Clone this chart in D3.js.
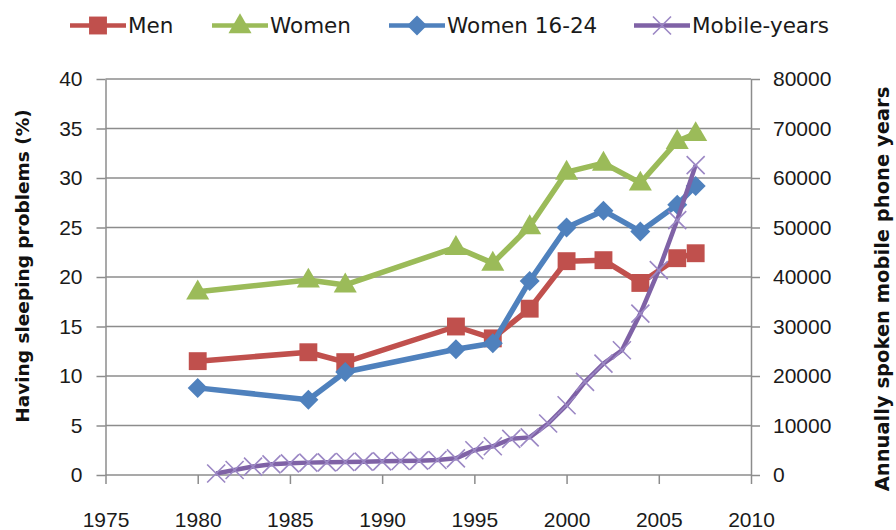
<!DOCTYPE html>
<html>
<head>
<meta charset="utf-8">
<script src="https://cdn.jsdelivr.net/npm/d3@7"></script>
<style>
  body { margin: 0; background: #fff; }
  svg { display: block; font-family: "DejaVu Sans", Verdana, sans-serif; }
  .axis text { font-size: 21px; fill: #1a1a1a; }
  .axis path, .axis line { stroke: #8c8c8c; stroke-width: 1.5; }
  .title { font-size: 18.5px; font-weight: bold; fill: #111; }
  .legend text { font-size: 21.5px; fill: #1a1a1a; }
</style>
</head>
<body>
<svg id="chart" width="896" height="530"></svg>
<script>
/*************************************************/
// Data

var surveyYears = [1980, 1986, 1988, 1994, 1996, 1998, 2000, 2002, 2004, 2006, 2007];
var men         = [11.5, 12.4, 11.4, 15.0, 13.8, 16.8, 21.6, 21.7, 19.4, 21.9, 22.4];
var women       = [18.5, 19.7, 19.2, 23.0, 21.4, 25.1, 30.6, 31.5, 29.5, 33.7, 34.5];
var women1624   = [8.8, 7.6, 10.4, 12.7, 13.3, 19.6, 25.0, 26.7, 24.6, 27.3, 29.2];

var mobileYears = [1981, 1982, 1983, 1984, 1985, 1986, 1987, 1988, 1989, 1990, 1991, 1992, 1993, 1994,
                   1995, 1996, 1997, 1998, 1999, 2000, 2001, 2002, 2003, 2004, 2005, 2006, 2007];
var mobile      = [300, 1000, 1700, 2150, 2350, 2500, 2560, 2630, 2700, 2760, 2830, 2900, 3030, 3370,
                   5000, 5800, 7300, 7600, 10400, 14100, 18800, 22500, 25200, 32600, 41400, 51500, 62600];

var xTicks = [1975, 1980, 1985, 1990, 1995, 2000, 2005, 2010];
var leftTicks = [0, 5, 10, 15, 20, 25, 30, 35, 40];
var rightTicks = [0, 10000, 20000, 30000, 40000, 50000, 60000, 70000, 80000];

var seriesNames = ['Men', 'Women', 'Women 16-24', 'Mobile-years'];

/*************************************************/

var svg = d3.select('#chart');
var plotL = 105.5, plotR = 751, plotT = 79, plotB = 475;

var xScale = d3.scaleLinear().domain([1975, 2010]).range([plotL, plotR]);
var yLeft = d3.scaleLinear().domain([0, 40]).range([plotB, plotT]);
var yRight = d3.scaleLinear().domain([0, 80000]).range([plotB, plotT]);

// gridlines
svg.append('g').selectAll('line').data(leftTicks).enter().append('line')
   .attr('x1', plotL).attr('x2', plotR)
   .attr('y1', d => yLeft(d)).attr('y2', d => yLeft(d))
   .style('stroke', '#8c8c8c').style('stroke-width', 1.5);

// axes
svg.append('g').attr('class', 'axis').attr('transform', 'translate(' + plotL + ',0)')
   .call(d3.axisLeft(yLeft).tickValues(leftTicks).tickSize(9).tickSizeOuter(0).tickPadding(14));
svg.append('g').attr('class', 'axis').attr('transform', 'translate(' + plotR + ',0)')
   .call(d3.axisRight(yRight).tickValues(rightTicks).tickFormat(d3.format('d')).tickSize(9).tickSizeOuter(0).tickPadding(13));
var xAxis = svg.append('g').attr('class', 'axis').attr('transform', 'translate(0,' + plotB + ')')
   .call(d3.axisBottom(xScale).tickValues(xTicks).tickFormat(d3.format('d')).tickSize(9).tickSizeOuter(0).tickPadding(28));
xAxis.select('.domain').remove();
svg.selectAll('.axis text').attr('fill', '#1a1a1a');

// axis titles
svg.append('text').attr('class', 'title')
   .attr('transform', 'translate(29,266) rotate(-90)')
   .attr('text-anchor', 'middle').text('Having sleeping problems (%)');
svg.append('text').attr('class', 'title').style('font-size', '19.5px')
   .attr('transform', 'translate(889,289) rotate(-90)')
   .attr('text-anchor', 'middle').text('Annually spoken mobile phone years');

/*************************************************/
// markers

var squareSym = d3.symbol().type(d3.symbolSquare).size(320);
var triSym = d3.symbol().type(d3.symbolTriangle).size(230);
var diamondSym = d3.symbol().type(d3.symbolSquare).size(200);
function xPath(r){ return 'M' + -r + ',' + -r + 'L' + r + ',' + r + 'M' + -r + ',' + r + 'L' + r + ',' + -r; }

var lineGen = d3.line().x(d => d.x).y(d => d.y);

var series = [
  { name: 'Men', color: '#C0504D', values: men, marker: function(g){ g.append('path').attr('d', squareSym()).style('fill', '#C0504D'); } },
  { name: 'Women', color: '#9BBB59', values: women, marker: function(g){ g.append('path').attr('d', triSym()).attr('transform', 'translate(0,1)').style('fill', '#9BBB59'); } },
  { name: 'Women 16-24', color: '#4F81BD', values: women1624, marker: function(g){ g.append('path').attr('d', diamondSym()).attr('transform', 'rotate(45)').style('fill', '#4F81BD'); } }
];

series.forEach(function(s){
  var pts = surveyYears.map((yr, i) => ({ x: xScale(yr), y: yLeft(s.values[i]) }));
  svg.append('path').attr('d', lineGen(pts))
     .style('fill', 'none').style('stroke', s.color).style('stroke-width', 5.5).style('stroke-linejoin', 'round');
  pts.forEach(function(p){
    var g = svg.append('g').attr('transform', 'translate(' + p.x + ',' + p.y + ')');
    s.marker(g);
  });
});

// mobile-years on the right axis
var mobilePts = mobileYears.map((yr, i) => ({ x: xScale(yr), y: yRight(mobile[i]) }));
svg.append('path').attr('d', lineGen(mobilePts))
   .style('fill', 'none').style('stroke', '#7F62A6').style('stroke-width', 4.5).style('stroke-linejoin', 'round');
svg.append('g').selectAll('path').data(mobilePts).enter().append('path')
   .attr('d', xPath(9)).attr('transform', d => 'translate(' + d.x + ',' + d.y + ')')
   .style('stroke', '#9B87C4').style('stroke-width', 1.6).style('fill', 'none');

/*************************************************/
// legend

var legendX = [70, 212, 389, 634];
var legendColors = ['#C0504D', '#9BBB59', '#4F81BD', '#7F62A6'];
var legend = svg.append('g').attr('class', 'legend');
seriesNames.forEach(function(name, i){
  var g = legend.append('g').attr('transform', 'translate(' + legendX[i] + ',25.5)');
  g.append('line').attr('x1', 0).attr('x2', 56).style('stroke', legendColors[i]).style('stroke-width', 4.5);
  var m = g.append('g').attr('transform', 'translate(28,0)');
  if(i < 3){ series[i].marker(m); }
  else { m.append('path').attr('d', xPath(9)).style('stroke', '#9B87C4').style('stroke-width', 1.6); }
  g.append('text').attr('x', 58).attr('y', 7.5).text(name);
});
</script>
</body>
</html>
